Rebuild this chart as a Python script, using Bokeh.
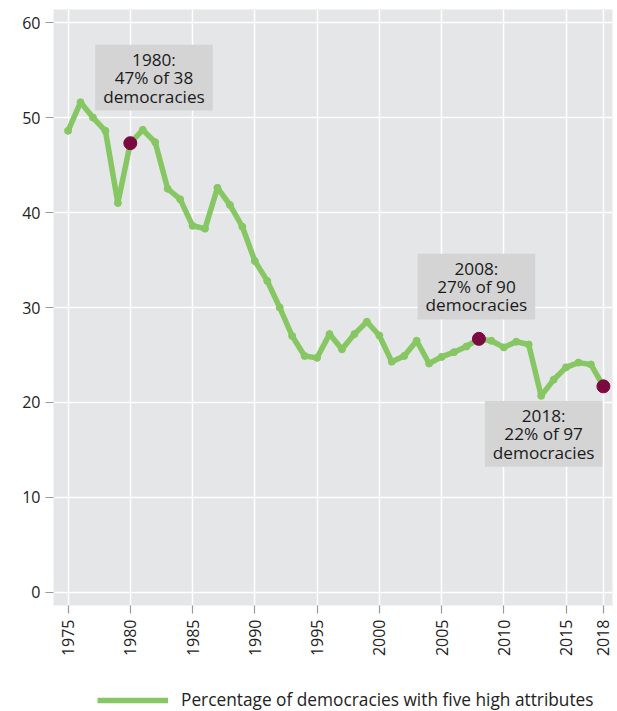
from bokeh.plotting import figure
from bokeh.layouts import column
from bokeh.models import Label, FixedTicker, Legend, LegendItem, Range1d
from bokeh.embed import file_html
from bokeh.resources import INLINE

years = list(range(1975, 2019))
values = [48.6, 51.6, 50.0, 48.6, 41.0, 47.3, 48.7, 47.4, 42.5, 41.4,
          38.6, 38.3, 42.6, 40.8, 38.5, 34.9, 32.8, 30.0, 27.0, 24.9,
          24.7, 27.2, 25.6, 27.2, 28.5, 27.05, 24.3, 24.9, 26.5, 24.1,
          24.8, 25.3, 25.9, 26.7, 26.5, 25.8, 26.4, 26.1, 20.7, 22.4,
          23.7, 24.2, 24.0, 21.7]
highlight_years = [1980, 2008, 2018]
highlight_values = [47.3, 26.7, 21.7]
note_texts = ["1980:\n47% of 38\ndemocracies",
              "2008:\n27% of 90\ndemocracies",
              "2018:\n22% of 97\ndemocracies"]
note_x = [1981.9, 2007.8, 2013.2]
note_y = [54.2, 32.2, 16.7]
x_ticks = [1975, 1980, 1985, 1990, 1995, 2000, 2005, 2010, 2015, 2018]
y_ticks = [0, 10, 20, 30, 40, 50, 60]
legend_label = "Percentage of democracies with five high attributes"

FONT = "Open Sans"
GREEN = "#87C763"
DOT = "#7B0A40"

p = figure(width=613, height=686, output_backend="svg", toolbar_location=None,
           x_range=Range1d(1973.83, 2018.73), y_range=Range1d(-1.37, 61.37),
           min_border_left=53, min_border_right=1, min_border_top=9,
           min_border_bottom=81)
p.background_fill_color = "#E5E6E8"
p.border_fill_color = "white"
p.outline_line_color = None

p.xgrid.ticker = FixedTicker(ticks=x_ticks)
p.ygrid.ticker = FixedTicker(ticks=y_ticks)
p.grid.grid_line_color = "white"
p.grid.grid_line_width = 1.5

p.xaxis.ticker = FixedTicker(ticks=x_ticks)
p.yaxis.ticker = FixedTicker(ticks=y_ticks)
for ax in (p.xaxis[0], p.yaxis[0]):
    ax.axis_line_color = None
    ax.major_tick_line_color = "#999999"
    ax.major_tick_line_width = 1.2
    ax.major_tick_in = 0
    ax.major_tick_out = 8
    ax.minor_tick_line_color = None
    ax.major_label_text_font = FONT
    ax.major_label_text_color = "#222222"
p.xaxis.major_label_text_font_size = "16px"
p.yaxis.major_label_text_font_size = "16px"
p.xaxis.major_label_orientation = 1.5708
p.xaxis.major_label_standoff = 6
p.yaxis.major_label_standoff = 5

line = p.line(years, values, line_color=GREEN, line_width=5.5, line_join="round")
p.scatter(years, values, size=7, color=GREEN)
p.scatter(highlight_years, highlight_values, size=13, color=DOT)

for t, x, y in zip(note_texts, note_x, note_y):
    p.add_layout(Label(x=x, y=y, text=t, text_align="center", text_baseline="middle",
                       text_font=FONT, text_font_size="17.2px", text_color="#1a1a1a",
                       text_line_height=0.8,
                       background_fill_color="#D4D4D4", background_fill_alpha=1.0,
                       padding=(8, 3)))

# legend strip (its frame lines up with the main frame in the column)
q = figure(width=613, height=25, output_backend="svg", toolbar_location=None,
           x_range=Range1d(0, 1), y_range=Range1d(0, 1),
           x_axis_location=None, y_axis_location=None,
           min_border_left=53, min_border_right=1, min_border_top=0, min_border_bottom=0)
q.outline_line_color = None
q.grid.visible = False
q.background_fill_color = "white"
swatch = q.line(years, values, line_color=GREEN, line_width=5.5)
legend = Legend(items=[LegendItem(label=legend_label, renderers=[swatch])],
                location=(44, 0), orientation="horizontal",
                glyph_width=71, glyph_height=20, label_height=20, label_standoff=13,
                label_text_font=FONT, label_text_font_size="17.3px",
                label_text_color="#222222",
                border_line_color=None, background_fill_alpha=0,
                padding=0, margin=0, spacing=0)
q.add_layout(legend, "center")

layout = column(p, q, spacing=0)
open("out.html", "w").write(file_html(layout, INLINE))
